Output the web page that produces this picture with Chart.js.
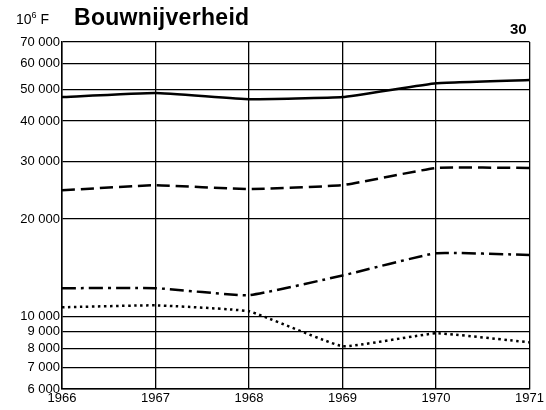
<!DOCTYPE html>
<html>
<head>
<meta charset="utf-8">
<script src="https://cdn.jsdelivr.net/npm/chart.js@4.4.0/dist/chart.umd.min.js"></script>
<style>
  body { margin: 0; background: #fff; }
  #wrap { position: relative; width: 546px; height: 410px; font-family: "Liberation Sans", Arial, sans-serif; }
  .unit { position: absolute; left: 16px; top: 10px; font-size: 14px; }
  .unit sup { font-size: 9px; }
  .title { position: absolute; left: 74px; top: 4px; font-size: 23px; font-weight: bold; letter-spacing: 0.3px; }
  .page { position: absolute; left: 510px; top: 20px; font-size: 15px; font-weight: bold; }
</style>
</head>
<body>
<div id="wrap">
  <div class="unit">10<sup>6</sup> F</div>
  <div class="title">Bouwnijverheid</div>
  <div class="page">30</div>
  <canvas id="chart" width="546" height="410"></canvas>
</div>
<script>
/* ---------- data ---------- */
const years = ["1966", "1967", "1968", "1969", "1970", "1971"];
const solidSeries = [47400, 48800, 46700, 47400, 52300, 53500];
const dashedSeries = [24500, 25400, 24700, 25400, 28700, 28700];
const dashDotSeries = [12250, 12250, 11650, 13400, 15700, 15500];
const dottedSeries = [10700, 10850, 10400, 8120, 8900, 8350];
const yTicks = [6000, 7000, 8000, 9000, 10000, 20000, 30000, 40000, 50000, 60000, 70000];

const fmt = v => String(v).replace(/\B(?=(\d{3})+(?!\d))/g, ' ');

function line(data, dash, width) {
    return {
        data: data,
        borderColor: '#000',
        borderWidth: width,
        borderDash: dash,
        pointRadius: 0,
        tension: 0.1,
        fill: false
    };
}

const ctx = document.getElementById('chart');

new Chart(ctx, {
    type: 'line',
    data: {
        labels: years,
        datasets: [
            line(solidSeries, [], 2.5),
            line(dashedSeries, [13, 6], 2.5),
            line(dashDotSeries, [14, 5, 3, 5], 2.5),
            line(dottedSeries, [2.5, 3.5], 2.5)
        ]
    },
    options: {
        responsive: false,
        animation: false,
        layout: { padding: { top: 42, right: 16, left: 0, bottom: 0 } },
        plugins: { legend: { display: false }, tooltip: { enabled: false } },
        scales: {
            x: {
                offset: false,
                afterFit: s => { s.height = 21; },
                grid: { color: '#000', lineWidth: 1.3, drawTicks: false },
                border: { color: '#000', width: 1.5 },
                ticks: { color: '#000', padding: 2, maxRotation: 0, font: { family: 'Liberation Sans', size: 13 } }
            },
            y: {
                type: 'logarithmic',
                min: 6000,
                max: 70000,
                afterFit: s => { s.width = 62; },
                afterBuildTicks: s => { s.ticks = yTicks.map(v => ({ value: v })); },
                grid: { color: '#000', lineWidth: 1.3, drawTicks: false },
                border: { color: '#000', width: 1.5 },
                ticks: {
                    color: '#000',
                    padding: 2,
                    autoSkip: false,
                    font: { family: 'Liberation Sans', size: 13 },
                    callback: v => fmt(v)
                }
            }
        }
    }
});
</script>
</body>
</html>
